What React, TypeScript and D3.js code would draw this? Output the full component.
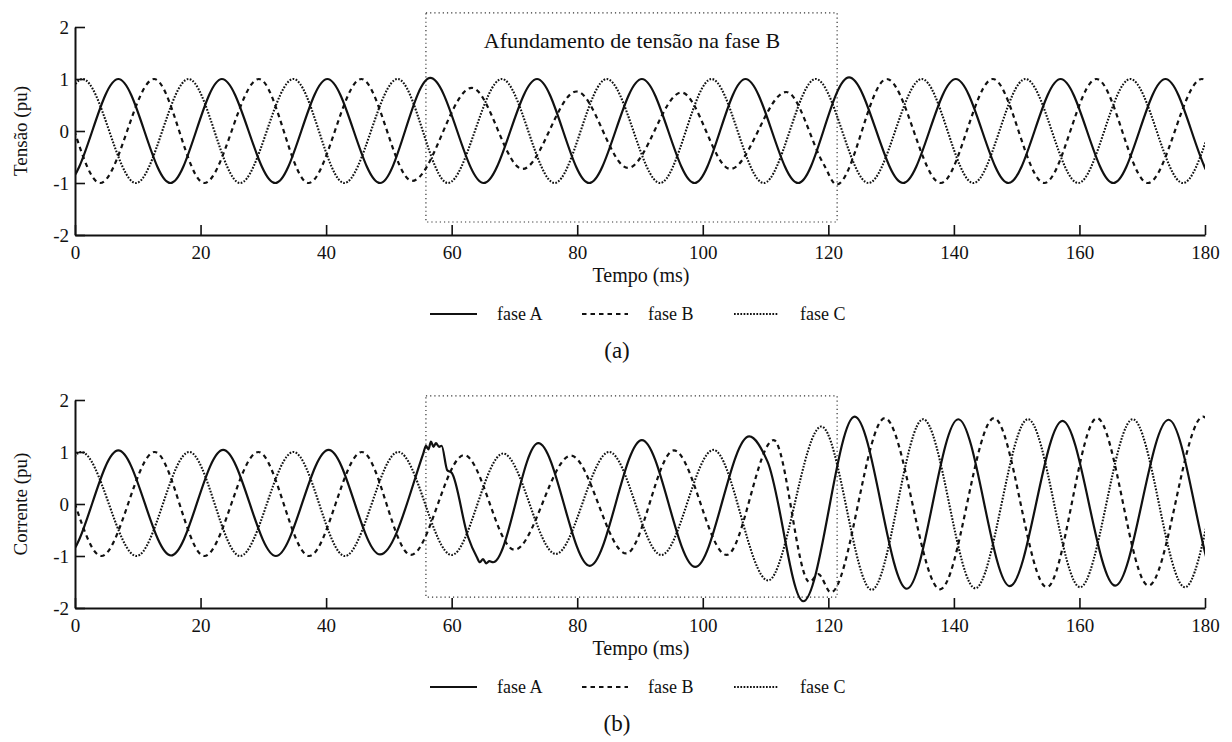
import React, { useEffect, useRef } from "react";
import * as d3 from "d3";

type Pt = [number, number];

// ---------- data ----------
const timeTicks = [0, 20, 40, 60, 80, 100, 120, 140, 160, 180];
const valueTicks = [-2, -1, 0, 1, 2];
const phaseNames = ["fase A", "fase B", "fase C"];
const panelLetters = ["(a)", "(b)"];
const yTitles = ["Tensão (pu)", "Corrente (pu)"];
const xTitle = "Tempo (ms)";
const annotation = "Afundamento de tensão na fase B";
const sagWindowMs = [55.9, 121.4];
const sagBoxTensao = [-1.75, 2.27];
const sagBoxCorrente = [-1.79, 2.08];

// extrema (time ms, value pu) of each waveform (first/last ones lie just outside the window)
const tensaoFaseA: Pt[] = [
  [-9.7, 1.0], [-1.4, -1.0], [6.9, 1.0], [15.2, -1.0], [23.4, 1.0], [31.9, -1.0], [40.2, 1.0], [48.6, -1.0],
  [56.6, 1.02], [65.1, -1.0], [73.6, 1.0], [81.9, -1.0], [90.3, 1.0], [98.7, -1.0], [106.8, 1.0],
  [115.2, -1.0], [123.3, 1.03], [131.9, -1.0], [140.3, 1.0], [148.7, -1.0], [157.0, 1.0],
  [165.4, -1.0], [173.7, 1.0], [182.0, -1.0], [190.3, 1.0],
];
const tensaoFaseB: Pt[] = [
  [-12.5, -1.0], [-4.2, 1.0], [4.0, -1.0], [12.6, 1.0], [20.6, -1.0], [29.3, 1.0], [37.2, -1.0], [45.6, 1.0],
  [53.7, -0.96], [63.2, 0.83], [71.3, -0.73], [79.9, 0.76], [88.1, -0.71], [96.6, 0.74],
  [104.4, -0.73], [113.3, 0.75], [119.3, -0.65], [121.3, -1.03], [129.3, 1.0], [137.9, -1.0],
  [146.2, 1.0], [154.4, -1.0], [162.7, 1.0], [170.9, -1.0], [179.5, 1.0], [187.9, -1.0], [196.2, 1.0],
];
const tensaoFaseC: Pt[] = [
  [-15.6, 1.0], [-7.3, -1.0], [1.2, 1.0], [9.7, -1.0], [18.1, 1.0], [26.3, -1.0], [34.8, 1.0], [42.9, -1.0],
  [51.4, 1.0], [59.4, -1.0], [68.0, 1.0], [76.4, -1.0], [84.7, 1.0], [93.2, -1.0], [101.4, 1.0],
  [109.7, -1.0], [118.0, 1.0], [126.4, -1.0], [134.9, 1.0], [143.1, -1.0], [151.4, 1.0],
  [159.8, -1.0], [168.1, 1.0], [176.5, -1.0], [184.9, 1.0], [193.2, -1.0],
];

const correnteFaseA: Pt[] = [
  [-9.7, 1.0], [-1.4, -1.0], [6.9, 1.03], [15.3, -0.99], [23.6, 1.04], [32.0, -1.0], [40.4, 1.04], [48.6, -0.97],
  [55.5, 0.98], [55.9, 1.12], [56.3, 1.05], [56.7, 1.2], [57.1, 1.1], [57.5, 1.17], [58.0, 1.1],
  [58.4, 1.12], [59.3, 0.65], [60.0, 0.6], [62.6, -0.63], [64.0, -1.02], [64.5, -1.12],
  [65.0, -1.06], [65.5, -1.14], [66.0, -1.1], [66.6, -1.12], [73.8, 1.17], [82.0, -1.19],
  [90.3, 1.23], [98.8, -1.21], [107.4, 1.3], [110.3, 0.82], [116.0, -1.87], [124.2, 1.68],
  [132.5, -1.63], [140.7, 1.63], [148.9, -1.58], [157.3, 1.6], [165.7, -1.57], [174.2, 1.62],
  [182.4, -1.6], [190.7, 1.6],
];
const correnteFaseB: Pt[] = [
  [-12.5, -1.0], [-4.2, 1.0], [4.2, -1.0], [12.7, 1.0], [20.6, -1.0], [29.2, 1.0], [37.3, -1.0], [45.7, 1.0],
  [53.5, -0.98], [62.0, 0.94], [70.0, -0.88], [79.0, 0.93], [87.8, -0.95], [95.4, 1.03],
  [103.8, -0.98], [111.3, 1.23], [117.0, -1.5], [118.4, -1.35], [120.4, -1.7], [129.0, 1.65],
  [137.8, -1.64], [146.4, 1.65], [154.8, -1.6], [162.8, 1.65], [171.0, -1.57], [179.7, 1.68],
  [188.1, -1.6], [196.4, 1.65],
];
const correnteFaseC: Pt[] = [
  [-15.6, 1.0], [-7.3, -1.0], [1.0, 1.0], [9.8, -1.0], [18.2, 1.0], [26.3, -1.0], [34.8, 1.0], [43.0, -1.0],
  [51.5, 1.0], [60.0, -0.98], [68.2, 0.97], [76.6, -0.96], [85.1, 1.0], [93.4, -0.98],
  [101.7, 1.04], [110.4, -1.47], [118.9, 1.49], [126.9, -1.65], [135.1, 1.63], [143.4, -1.62],
  [151.8, 1.63], [160.1, -1.6], [168.5, 1.63], [176.8, -1.6], [185.2, 1.63], [193.5, -1.6],
];

// ---------- layout / style ----------
const W = 1232;
const H = 742;
const FONT = "'Liberation Serif', 'Times New Roman', serif";
const X0 = 75;
const X1 = 1205;

const styles = [
  { width: 2.2, dash: null as string | null },
  { width: 2.2, dash: "4.5,4" },
  { width: 2.1, dash: "1.7,1.5" },
];
const legendLines = [
  [430, 477, 497],
  [582, 628, 648],
  [734, 778, 800],
];

export default function App() {
  const ref = useRef<SVGSVGElement | null>(null);

  useEffect(() => {
    const svg = d3.select(ref.current);
    svg.selectAll("*").remove();
    const defs = svg.append("defs");

    const x = d3.scaleLinear().domain([0, 180]).range([X0, X1]);

    const panels = [
      { top: 27, bottom: 235, series: [tensaoFaseA, tensaoFaseB, tensaoFaseC], box: sagBoxTensao, annot: true },
      { top: 400, bottom: 608, series: [correnteFaseA, correnteFaseB, correnteFaseC], box: sagBoxCorrente, annot: false },
    ];

    panels.forEach((p, i) => {
      const y = d3.scaleLinear().domain([-2, 2]).range([p.bottom, p.top]);
      const g = svg.append("g");
      const clipId = `clip-${i}`;
      defs
        .append("clipPath")
        .attr("id", clipId)
        .append("rect")
        .attr("x", X0)
        .attr("y", p.top - 40)
        .attr("width", X1 - X0)
        .attr("height", p.bottom - p.top + 80);

      // sag window box
      g.append("rect")
        .attr("x", x(sagWindowMs[0]))
        .attr("y", y(p.box[1]))
        .attr("width", x(sagWindowMs[1]) - x(sagWindowMs[0]))
        .attr("height", y(p.box[0]) - y(p.box[1]))
        .attr("fill", "none")
        .attr("stroke", "#333")
        .attr("stroke-width", 1.2)
        .attr("stroke-dasharray", "1.2,3");

      if (p.annot) {
        g.append("text")
          .attr("x", 632)
          .attr("y", 48)
          .attr("text-anchor", "middle")
          .attr("font-family", FONT)
          .attr("font-size", 22)
          .attr("fill", "#111")
          .text(annotation);
      }

      const line = d3
        .line<Pt>()
        .x((d) => x(d[0]))
        .y((d) => y(d[1]))
        .curve(d3.curveMonotoneX);

      p.series.forEach((s, k) => {
        const path = g
          .append("path")
          .attr("d", line(s) as string)
          .attr("clip-path", `url(#${clipId})`)
          .attr("fill", "none")
          .attr("stroke", "#111")
          .attr("stroke-width", styles[k].width)
          .attr("stroke-linejoin", "round");
        if (styles[k].dash) path.attr("stroke-dasharray", styles[k].dash as string);
      });

      // axes
      const xa = d3
        .axisBottom(x)
        .tickValues(timeTicks)
        .tickFormat((d) => String(d))
        .tickSizeInner(-10)
        .tickSizeOuter(0)
        .tickPadding(11);
      const gx = g.append("g").attr("transform", `translate(0,${p.bottom})`).call(xa);
      gx.attr("font-family", FONT).attr("font-size", 19);
      gx.select(".domain").attr("stroke", "#111").attr("stroke-width", 2);
      gx.selectAll(".tick line").attr("stroke", "#111").attr("stroke-width", 1.6);
      gx.selectAll(".tick text").attr("fill", "#111");

      const ya = d3
        .axisLeft(y)
        .tickValues(valueTicks)
        .tickFormat((d) => String(d))
        .tickSizeInner(-10)
        .tickSizeOuter(0)
        .tickPadding(6);
      const gy = g.append("g").attr("transform", `translate(${X0},0)`).call(ya);
      gy.attr("font-family", FONT).attr("font-size", 19);
      gy.select(".domain").attr("stroke", "#111").attr("stroke-width", 2);
      gy.selectAll(".tick line").attr("stroke", "#111").attr("stroke-width", 1.6);
      gy.selectAll(".tick text").attr("fill", "#111");

      // titles
      g.append("text")
        .attr("x", 641)
        .attr("y", p.bottom + 47)
        .attr("text-anchor", "middle")
        .attr("font-family", FONT)
        .attr("font-size", 20)
        .attr("fill", "#111")
        .text(xTitle);

      g.append("text")
        .attr("transform", `translate(27,${y(0)}) rotate(-90)`)
        .attr("text-anchor", "middle")
        .attr("font-family", FONT)
        .attr("font-size", 19)
        .attr("fill", "#111")
        .text(yTitles[i]);

      // legend
      const ly = p.bottom + 79;
      phaseNames.forEach((name, k) => {
        const [a, b, tx] = legendLines[k];
        const l = g
          .append("line")
          .attr("x1", a)
          .attr("x2", b)
          .attr("y1", ly)
          .attr("y2", ly)
          .attr("stroke", "#111")
          .attr("stroke-width", styles[k].width);
        if (styles[k].dash) l.attr("stroke-dasharray", styles[k].dash as string);
        g.append("text")
          .attr("x", tx)
          .attr("y", ly + 6)
          .attr("font-family", FONT)
          .attr("font-size", 18)
          .attr("fill", "#111")
          .text(name);
      });

      g.append("text")
        .attr("x", 617)
        .attr("y", p.bottom + 123)
        .attr("text-anchor", "middle")
        .attr("font-family", FONT)
        .attr("font-size", 23)
        .attr("fill", "#111")
        .text(panelLetters[i]);
    });
  }, []);

  return (
    <svg
      ref={ref}
      width={W}
      height={H}
      style={{ position: "absolute", left: 0, top: 0, background: "#fff", display: "block" }}
    />
  );
}
